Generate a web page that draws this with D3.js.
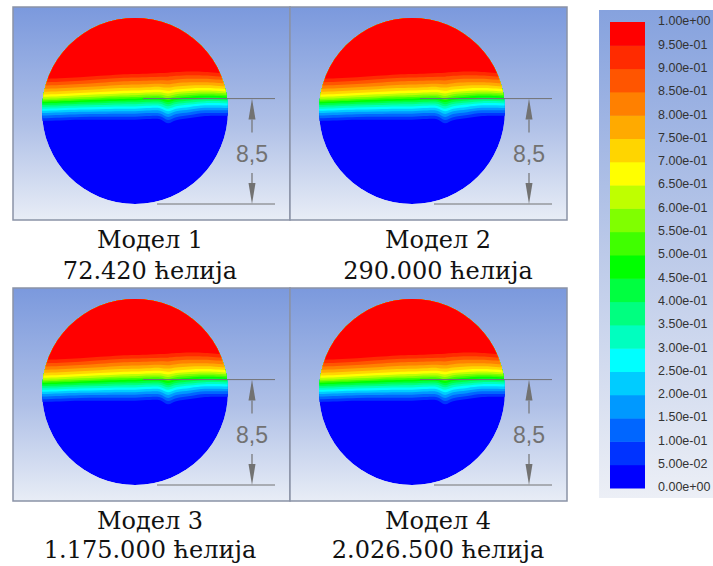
<!DOCTYPE html>
<html><head><meta charset="utf-8">
<script src="https://cdn.jsdelivr.net/npm/d3@7"></script>
<style>body{margin:0;background:#fff;} svg{display:block;}</style>
</head><body>
<svg id="chart" width="713" height="566"></svg>
<script>
// ---------------- data ----------------
const models = ["Модел 1", "Модел 2", "Модел 3", "Модел 4"];
const cellCounts = ["72.420 ћелија", "290.000 ћелија", "1.175.000 ћелија", "2.026.500 ћелија"];
const legendValues = [1.0, 0.95, 0.9, 0.85, 0.8, 0.75, 0.7, 0.65, 0.6, 0.55, 0.5, 0.45, 0.4, 0.35, 0.3, 0.25, 0.2, 0.15, 0.1, 0.05, 0.0];
// band colours from lowest (0–0.05) to highest (0.95–1.00)
const bandColors = ["#0000ff", "#0033ff", "#0066ff", "#0099ff", "#00ccff", "#00ffff", "#00ffbf", "#00ff80", "#00ff40", "#00ff00",
                    "#40ff00", "#80ff00", "#bfff00", "#ffff00", "#ffd500", "#ffaa00", "#ff8000", "#ff5500", "#ff2b00", "#ff0000"];
// iso-levels and their mean height above the bottom of the pipe (same units as the 8,5 dimension)
const isoLevels  = [0.05, 0.10, 0.15, 0.20, 0.25, 0.30, 0.35, 0.40, 0.45, 0.50, 0.55, 0.60, 0.65, 0.70, 0.75, 0.80, 0.85, 0.90, 0.95];
const isoHeights = [6.80, 7.04, 7.27, 7.48, 7.68, 7.86, 8.03, 8.18, 8.33, 8.47, 8.60, 8.75, 8.92, 9.12, 9.35, 9.60, 9.88, 10.16, 10.45];
// waviness of the interface across the section (horizontal position, shift of upper and lower iso-lines)
const waveX      = [-8.0, -6.05, -4.44, -2.82, -1.21, 0.0, 1.21, 2.02, 2.66, 3.31, 4.44, 5.65, 8.0];
const upperShift = [-0.40, -0.32, -0.24, -0.12, 0.0, 0.04, 0.08, 0.12, 0.16, 0.20, 0.24, 0.20, 0.0];
const lowerShift = [-0.10, -0.05, 0.0, 0.0, 0.0, 0.0, 0.06, 0.02, -0.32, -0.06, 0.12, 0.30, 0.32];
const pipeDiameter = 15;
const dimensionValue = 8.5;

// ---------------- layout ----------------
const svg = d3.select("#chart");
const defs = svg.append("defs");

const panelW = 277, panelH = 213;
const panelPos = [[13, 7], [290, 7], [13, 288], [290, 288]];
const labelX = [150, 438];
const labelRows = [[240, 271], [521, 550]];

const bg = defs.append("linearGradient").attr("id", "panelBg").attr("x1", 0).attr("y1", 0).attr("x2", 0).attr("y2", 1);
bg.append("stop").attr("offset", "0%").attr("stop-color", "#7b99dd");
bg.append("stop").attr("offset", "55%").attr("stop-color", "#afc0e7");
bg.append("stop").attr("offset", "100%").attr("stop-color", "#e8edf6");

const lbg = defs.append("linearGradient").attr("id", "legendBg").attr("x1", 0).attr("y1", 0).attr("x2", 0).attr("y2", 1);
lbg.append("stop").attr("offset", "0%").attr("stop-color", "#86a2de");
lbg.append("stop").attr("offset", "50%").attr("stop-color", "#bccae9");
lbg.append("stop").attr("offset", "100%").attr("stop-color", "#eceff6");

const dimColor = "#727272";

models.forEach((m, p) => {
  const [x0, y0] = panelPos[p];
  const g = svg.append("g");
  g.append("rect").attr("x", x0).attr("y", y0).attr("width", panelW).attr("height", panelH)
    .attr("fill", "url(#panelBg)").attr("stroke", "#8a93a6").attr("stroke-width", 1.5);

  const r = 93;
  const cx = x0 + 122, cy = y0 + 104;
  const x = d3.scaleLinear().domain([-pipeDiameter / 2, pipeDiameter / 2]).range([cx - r, cx + r]);
  const y = d3.scaleLinear().domain([0, pipeDiameter]).range([cy + r, cy - r]);

  const clipId = "clip" + p;
  defs.append("clipPath").attr("id", clipId).append("circle").attr("cx", cx).attr("cy", cy).attr("r", r);

  const field = g.append("g").attr("clip-path", `url(#${clipId})`);
  field.append("circle").attr("cx", cx).attr("cy", cy).attr("r", r).attr("fill", bandColors[0]);

  const area = d3.area()
    .x(d => x(d.x))
    .y0(y(pipeDiameter + 1))
    .y1(d => y(d.h))
    .curve(d3.curveCatmullRom);

  isoLevels.forEach((v, k) => {
    const pts = waveX.map((wx, i) => ({ x: wx, h: isoHeights[k] + upperShift[i] * v + lowerShift[i] * (1 - v) }));
    field.append("path").attr("d", area(pts)).attr("fill", bandColors[k + 1]);
  });

  // dimension
  const yTop = y(dimensionValue), yBot = y(0);
  const ax = x0 + 239;
  g.append("line").attr("x1", x0 + 130).attr("x2", x0 + 262).attr("y1", yTop).attr("y2", yTop)
    .attr("stroke", dimColor).attr("stroke-width", 1);
  g.append("line").attr("x1", x0 + 144).attr("x2", x0 + 262).attr("y1", yBot).attr("y2", yBot)
    .attr("stroke", dimColor).attr("stroke-width", 1);
  const headL = 21, headW = 3.5;
  g.append("path").attr("d", `M${ax},${yTop}L${ax - headW},${yTop + headL}L${ax + headW},${yTop + headL}Z`).attr("fill", dimColor);
  g.append("line").attr("x1", ax).attr("x2", ax).attr("y1", yTop + headL).attr("y2", yTop + 34)
    .attr("stroke", dimColor).attr("stroke-width", 1.2);
  g.append("path").attr("d", `M${ax},${yBot}L${ax - headW},${yBot - headL}L${ax + headW},${yBot - headL}Z`).attr("fill", dimColor);
  g.append("line").attr("x1", ax).attr("x2", ax).attr("y1", yBot - headL).attr("y2", yBot - 31)
    .attr("stroke", dimColor).attr("stroke-width", 1.2);
  g.append("text").attr("x", ax).attr("y", (yTop + yBot) / 2 + 3).attr("dy", "0.35em")
    .attr("text-anchor", "middle").attr("font-family", "Liberation Sans, Arial, sans-serif")
    .attr("font-size", 23).attr("fill", dimColor)
    .text(String(dimensionValue).replace(".", ","));

  // captions
  const col = p % 2, row = Math.floor(p / 2);
  const capStyle = t => t.attr("text-anchor", "middle").attr("dy", "0.35em")
    .attr("font-family", "DejaVu Serif, serif").attr("font-size", 24).attr("fill", "#111");
  svg.append("text").attr("x", labelX[col]).attr("y", labelRows[row][0]).call(capStyle).text(m);
  svg.append("text").attr("x", labelX[col]).attr("y", labelRows[row][1]).call(capStyle).text(cellCounts[p]);
});

// ---------------- legend ----------------
const lg = svg.append("g");
lg.append("rect").attr("x", 599).attr("y", 10).attr("width", 130).attr("height", 488).attr("fill", "url(#legendBg)");
const yl = d3.scaleLinear().domain([0, 1]).range([488, 22]);
const barX = 610, barW = 35;
bandColors.forEach((c, i) => {
  const lo = legendValues[legendValues.length - 1 - i], hi = legendValues[legendValues.length - 2 - i];
  lg.append("rect").attr("x", barX).attr("width", barW)
    .attr("y", yl(hi)).attr("height", yl(lo) - yl(hi) + 0.5).attr("fill", c);
});
const fmt = v => v.toExponential(2).replace(/e([+-])(\d)$/, "e$10$2");
legendValues.forEach(v => {
  lg.append("text").attr("x", 658).attr("y", yl(v) - 1).attr("dy", "0.35em")
    .attr("font-family", "Liberation Sans, Arial, sans-serif").attr("font-size", 12.5)
    .attr("fill", "#333").text(fmt(v));
});
</script>
</body></html>
